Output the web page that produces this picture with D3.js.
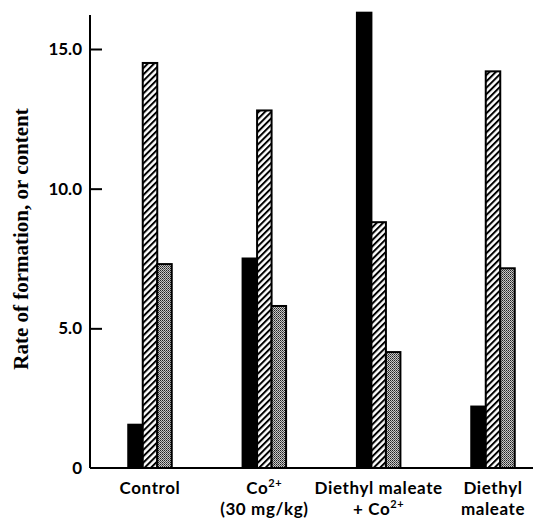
<!DOCTYPE html>
<meta charset="utf-8">
<head>
    <meta charset="utf-8">
    <title>Rate of formation, or content</title>
    <script src="https://d3js.org/d3.v7.min.js" charset="utf-8"></script>
    <style>
        html, body {
            margin: 0;
            padding: 0;
            background: #fff;
        }
        .tick-label {
            font-family: Lato, "Open Sans", sans-serif;
            font-weight: bold;
            font-size: 17px;
        }
        .cat-label {
            font-family: Lato, "Open Sans", sans-serif;
            font-weight: bold;
            font-size: 17px;
            letter-spacing: 0.6px;
        }
        .y-title {
            font-family: "Liberation Serif", serif;
            font-weight: bold;
            font-size: 21px;
        }
    </style>
</head>

<body>
<svg width="533" height="521"></svg>

<script>

/****************************
 data
****************************/

// treatment groups
var groups = ["Control", "Co", "DMCo", "DM"];

// label lines under each group ("^" marks the superscript part)
var groupLabels = [
    ["Control"],
    ["Co^2+", "(30 mg/kg)"],
    ["Diethyl maleate", "+ Co^2+"],
    ["Diethyl", "maleate"]
];

// three bars per group: solid, hatched, stippled
var seriesNames = ["solid", "hatched", "stippled"];
var solidValues    = [1.55, 7.5, 16.3, 2.2];
var hatchedValues  = [14.5, 12.8, 8.8, 14.2];
var stippledValues = [7.3, 5.8, 4.15, 7.15];

var yTicks = [0, 5, 10, 15];
var yTickLabels = ["0", "5.0", "10.0", "15.0"];
var yTitle = "Rate of formation, or content";

/****************************
 layout
****************************/

var svg = d3.select("svg");
var x0 = 90, yZero = 468, yTop = 15;

var y = d3.scaleLinear().domain([0, 15]).range([yZero, 49]);

var x = d3.scalePoint().domain(groups).range([150, 493]);

var barW = 14.5;
var xs = d3.scaleBand().domain(seriesNames)
    .range([-1.5 * barW, 1.5 * barW]);

var defs = svg.append("defs");

// hatching ///
var hatch = defs.append("pattern")
    .attr("id", "hatch")
    .attr("patternUnits", "userSpaceOnUse")
    .attr("width", 4.5).attr("height", 4.5)
    .attr("patternTransform", "rotate(45)");
hatch.append("rect").attr("width", 4.5).attr("height", 4.5).attr("fill", "#fff");
hatch.append("rect").attr("width", 2).attr("height", 4.5).attr("fill", "#000");

// stipple
var dots = defs.append("pattern")
    .attr("id", "stipple")
    .attr("patternUnits", "userSpaceOnUse")
    .attr("width", 2).attr("height", 2);
dots.append("rect").attr("width", 2).attr("height", 2).attr("fill", "#c8c8c8");
dots.append("rect").attr("width", 1).attr("height", 1).attr("fill", "#222");
dots.append("rect").attr("x", 1).attr("y", 1).attr("width", 1).attr("height", 1).attr("fill", "#555");

var fills = {solid: "#000", hatched: "url(#hatch)", stippled: "url(#stipple)"};

var rows = [];
groups.forEach(function(g, i) {
    rows.push({g: g, s: "solid", v: solidValues[i]});
    rows.push({g: g, s: "hatched", v: hatchedValues[i]});
    rows.push({g: g, s: "stippled", v: stippledValues[i]});
});

/****************************
 bars
****************************/

svg.append("g").selectAll("rect")
    .data(rows)
    .join("rect")
    .attr("x", d => x(d.g) + xs(d.s))
    .attr("y", d => y(d.v))
    .attr("width", xs.bandwidth())
    .attr("height", d => yZero - y(d.v))
    .attr("fill", d => fills[d.s])
    .attr("stroke", "#000")
    .attr("stroke-width", 2);

/****************************
 axes
****************************/

var yAxis = d3.axisRight(y)
    .tickValues(yTicks.filter(t => t > 0))
    .tickSize(12)
    .tickFormat("");

var ag = svg.append("g")
    .attr("transform", "translate(" + x0 + ",0)")
    .call(yAxis);
ag.select(".domain").remove();
ag.selectAll(".tick line").attr("stroke", "#000").attr("stroke-width", 2);

svg.append("line")
    .attr("x1", x0).attr("x2", x0)
    .attr("y1", yTop).attr("y2", yZero)
    .attr("stroke", "#000").attr("stroke-width", 2);

svg.append("line")
    .attr("x1", x0).attr("x2", 533)
    .attr("y1", yZero).attr("y2", yZero)
    .attr("stroke", "#000").attr("stroke-width", 2);

svg.append("g").selectAll("text")
    .data(yTicks)
    .join("text")
    .attr("class", "tick-label")
    .attr("x", x0 - 8)
    .attr("y", d => y(d) + 6)
    .attr("text-anchor", "end")
    .text((d, i) => yTickLabels[i]);

svg.append("text")
    .attr("class", "y-title")
    .attr("transform", "translate(28,239) rotate(-90)")
    .attr("text-anchor", "middle")
    .text(yTitle);

/****************************
 category labels
****************************/

groups.forEach(function(g, i) {
    groupLabels[i].forEach(function(line, j) {
        var t = svg.append("text")
            .attr("class", "cat-label")
            .attr("x", x(g))
            .attr("y", 494 + j * 21)
            .attr("text-anchor", "middle");
        var parts = line.split("^");
        t.append("tspan").text(parts[0]);
        if (parts[1]) {
            t.append("tspan")
                .attr("dy", -7)
                .attr("font-size", 11)
                .text(parts[1]);
        }
    });
});

</script>
</body>
</html>
